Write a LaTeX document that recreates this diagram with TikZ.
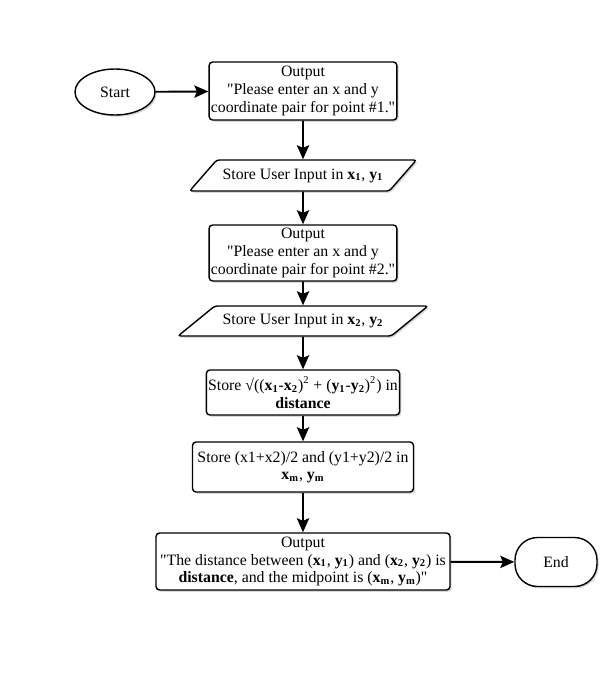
\documentclass[tikz,border=0pt]{standalone}
\usepackage{fontspec}
\setmainfont{Liberation Serif}
\usetikzlibrary{shapes.geometric,arrows.meta,shadows}

\tikzset{
  box/.style={draw,rounded corners=2pt,line width=0.8pt,fill=white,align=center,
    inner sep=1pt,drop shadow={shadow xshift=1pt,shadow yshift=-1pt,opacity=0.3}},
  io/.style={draw,trapezium,trapezium stretches=true,line width=0.8pt,fill=white,
    inner sep=1pt,rounded corners=1.5pt,
    drop shadow={shadow xshift=1pt,shadow yshift=-1pt,opacity=0.3}},
  term/.style={draw,line width=0.8pt,fill=white,
    drop shadow={shadow xshift=1pt,shadow yshift=-1pt,opacity=0.3}},
  flow/.style={-{Stealth[length=8pt,width=7pt,inset=1.5pt]},line width=1.1pt}
}

\newcommand{\bv}[2]{\textbf{#1\textsubscript{#2}}}
\newcommand{\qt}{\textquotedbl}

\begin{document}
\begin{tikzpicture}[x=0.02cm,y=-0.02cm,font=\fontsize{9}{10}\selectfont]
    \useasboundingbox (0,0) rectangle (613,700);

    % Start and first output
    \node[term,ellipse,minimum width=1.6cm,minimum height=0.92cm] (start) at (115,92) {Start};
    \node[box,minimum width=3.7cm,minimum height=1.16cm] (out1) at (303,91)
        {Output\\\qt Please enter an x and y\\coordinate pair for point \#1.\qt};
    \draw[flow] (start) -- (out1);

    % First point
    \node[io,trapezium left angle=34,trapezium right angle=146,
        minimum width=4.54cm,minimum height=0.62cm] (in1) at (303,175.5)
        {Store User Input in \bv{x}{1}, \bv{y}{1}};
    \draw[flow] (out1) -- (in1);

    % Second output
    \node[box,minimum width=3.64cm,minimum height=1.12cm] (out2) at (303,253)
        {Output\\\qt Please enter an x and y\\coordinate pair for point \#2.\qt};
    \draw[flow] (in1) -- (out2);

    % Second point
    \node[io,trapezium left angle=27,trapezium right angle=153,
        minimum width=5cm,minimum height=0.6cm] (in2) at (303,321)
        {Store User Input in \bv{x}{2}, \bv{y}{2}};
    \draw[flow] (out2) -- (in2);

    % Distance
    \node[box,minimum width=3.86cm,minimum height=0.9cm] (dist) at (303,392.5)
        {Store √((\bv{x}{1}-\bv{x}{2})\textsuperscript{2} + (\bv{y}{1}-\bv{y}{2})\textsuperscript{2}) in\\\textbf{distance}};
    \draw[flow] (in2) -- (dist);

    % Midpoint
    \node[box,minimum width=4.42cm,minimum height=1cm] (mid) at (303,467)
        {Store (x1+x2)/2 and (y1+y2)/2 in\\\bv{x}{m}, \bv{y}{m}};
    \draw[flow] (dist) -- (mid);

    % Final output
    \node[box,minimum width=5.88cm,minimum height=1.14cm] (out3) at (303,561.5)
        {Output\\\qt The distance between (\bv{x}{1}, \bv{y}{1}) and (\bv{x}{2}, \bv{y}{2}) is\\\textbf{distance}, and the midpoint is (\bv{x}{m}, \bv{y}{m})\qt};
    \draw[flow] (mid) -- (out3);

    % End
    \node[term,rounded corners=0.45cm,minimum width=1.64cm,minimum height=0.98cm] (end) at (556,562) {End};
    \draw[flow] (out3) -- (end);
\end{tikzpicture}
\end{document}
